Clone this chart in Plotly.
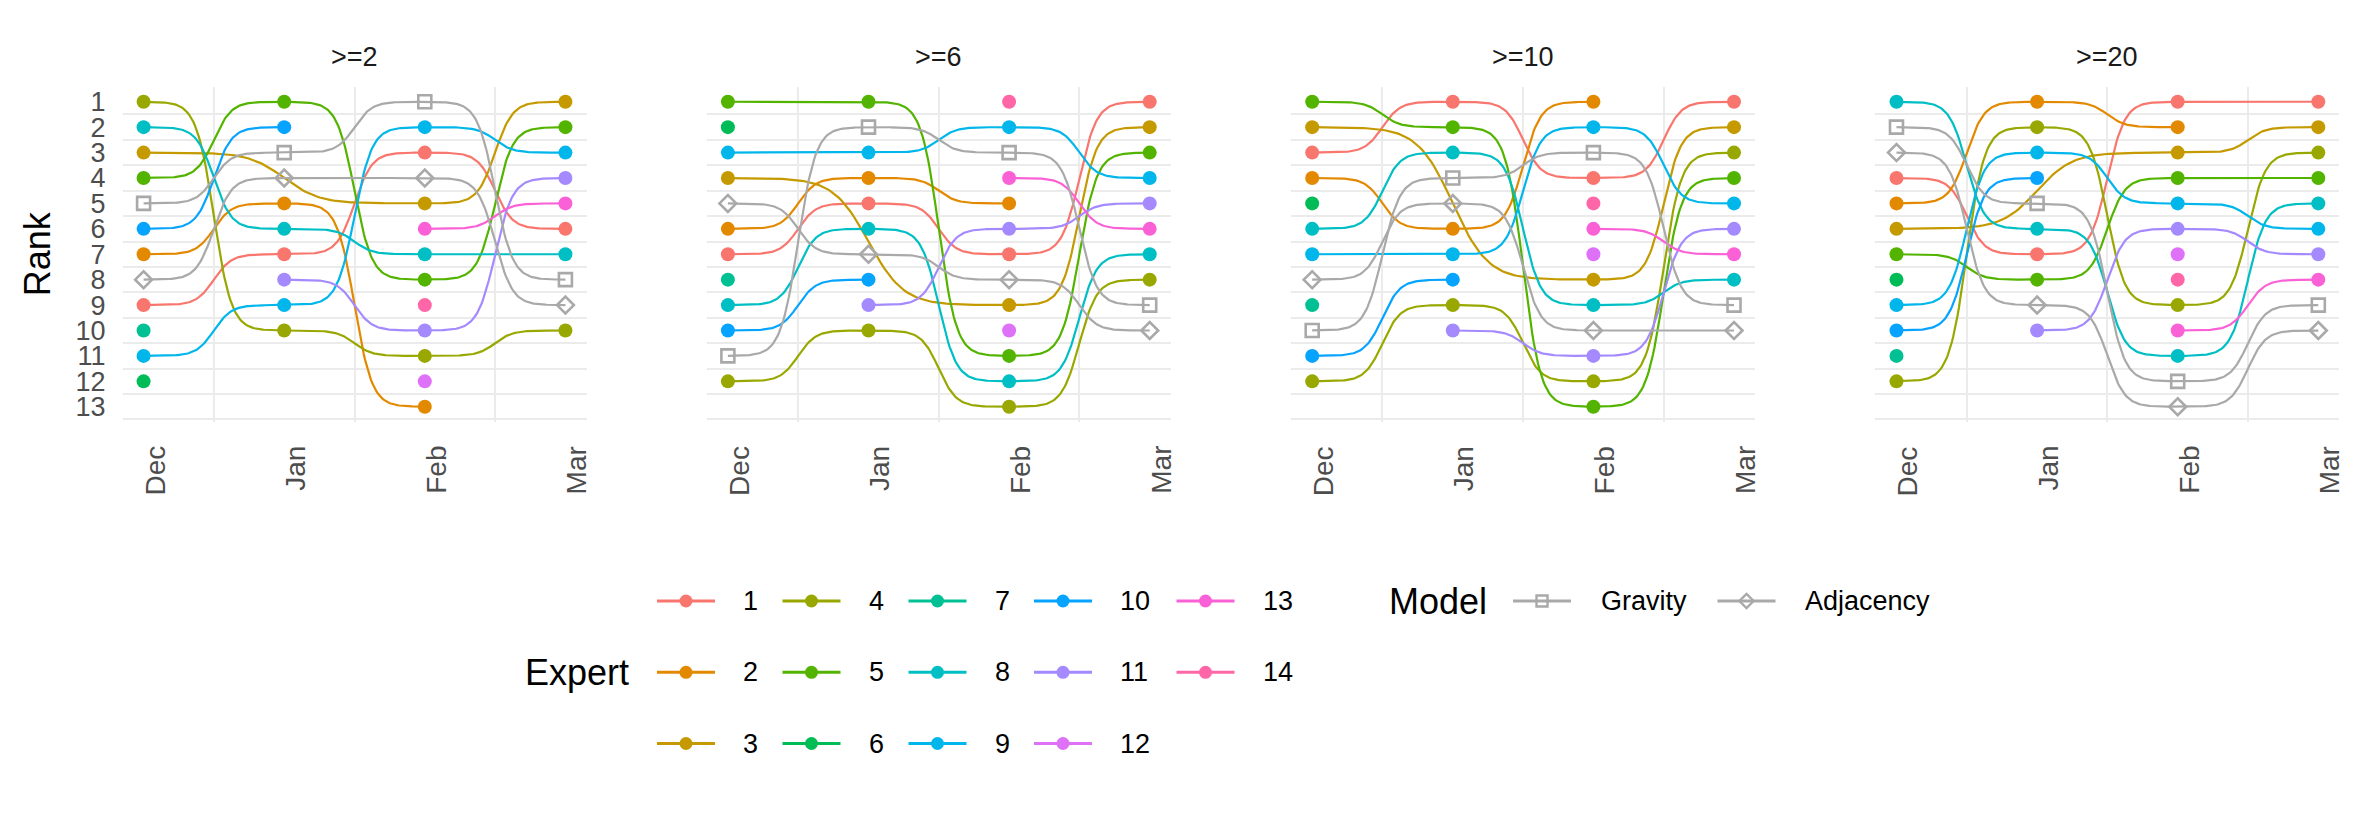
import numpy as np
import plotly.graph_objects as go

# ---------------- data ----------------
months = ["Dec", "Jan", "Feb", "Mar"]
panels = [">=2", ">=6", ">=10", ">=20"]
experts = [str(i) for i in range(1, 15)]
models = ["Gravity", "Adjacency"]
series = experts + models

expert_colors = ["#F8766D", "#E38900", "#C49A00", "#99A800", "#53B400", "#00BC56",
                 "#00C094", "#00BFC4", "#00B6EB", "#06A4FF", "#A58AFF", "#DF70F8",
                 "#FB61D7", "#FF66A8"]
model_color = "#A9A9A9"
model_symbols = ["square-open", "diamond-open"]

N = None
# rows follow `series` order: experts 1..14, Gravity, Adjacency ; columns Dec, Jan, Feb, Mar
rank_ge2 = [
    [9, 7, 3, 6], [7, 5, 13, N], [3, N, 5, 1], [1, 10, 11, 10], [4, 1, 8, 2],
    [12, N, N, N], [10, N, N, N], [2, 6, 7, 7], [11, 9, 2, 3], [6, 2, N, N],
    [N, 8, 10, 4], [N, N, 12, N], [N, N, 6, 5], [N, N, 9, N],
    [5, 3, 1, 8], [8, 4, 4, 9],
]
rank_ge6 = [
    [7, 5, 7, 1], [6, 4, 5, N], [4, N, 9, 2], [12, 10, 13, 8], [1, 1, 11, 3],
    [2, N, N, N], [8, N, N, N], [9, 6, 12, 7], [3, 3, 2, 4], [10, 8, N, N],
    [N, 9, 6, 5], [N, N, 10, N], [N, N, 4, 6], [N, N, 1, N],
    [11, 2, 3, 9], [5, 7, 8, 10],
]
rank_ge10 = [
    [3, 1, 4, 1], [4, 6, 1, N], [2, N, 8, 2], [12, 9, 12, 3], [1, 2, 13, 4],
    [5, N, N, N], [9, N, N, N], [6, 3, 9, 8], [7, 7, 2, 5], [11, 8, N, N],
    [N, 10, 11, 6], [N, N, 7, N], [N, N, 6, 7], [N, N, 5, N],
    [10, 4, 3, 9], [8, 5, 10, 10],
]
rank_ge20 = [
    [4, 7, 1, 1], [5, 1, 2, N], [6, N, 3, 2], [12, 2, 9, 3], [7, 8, 4, 4],
    [8, N, N, N], [11, N, N, N], [1, 6, 11, 5], [9, 3, 5, 6], [10, 4, N, N],
    [N, 10, 6, 7], [N, N, 7, N], [N, N, 10, 8], [N, N, 8, N],
    [2, 5, 12, 9], [3, 9, 13, 10],
]
panel_ranks = [rank_ge2, rank_ge6, rank_ge10, rank_ge20]
rank_ticks = list(range(1, 14))

# ---------------- layout constants ----------------
W, H = 2362, 826
FONT = "Liberation Sans, Arial, Helvetica, sans-serif"
GRID = "#EBEBEB"
panel_left = [122.5, 706.8, 1291.1, 1875.4]
panel_w = 464.0
plot_top, plot_bot = 86.5, 422.0
X_RANGE = [0.85, 4.15]
SMOOTH = 8
NPTS = 100


def sigmoid_path(x0, x1, y0, y1):
    t = np.linspace(-SMOOTH, SMOOTH, NPTS)
    s = np.exp(t) / (np.exp(t) + 1)
    xs = (t + SMOOTH) / (2 * SMOOTH) * (x1 - x0) + x0
    ys = s * (y1 - y0) + y0
    return xs.tolist(), ys.tolist()


def color_of(k):
    return expert_colors[k] if k < len(experts) else model_color


fig = go.Figure()

# lines first (all panels), then points
for p, ranks in enumerate(panel_ranks):
    xa, ya = f"x{p + 1 if p else ''}", f"y{p + 1 if p else ''}"
    for k, name in enumerate(series):
        row = ranks[k]
        pts = [(i + 1, r) for i, r in enumerate(row) if r is not None]
        if len(pts) < 2:
            continue
        xs, ys = [], []
        for (xa0, ya0), (xa1, ya1) in zip(pts[:-1], pts[1:]):
            sx, sy = sigmoid_path(xa0, xa1, ya0, ya1)
            xs += sx
            ys += sy
        fig.add_trace(go.Scatter(x=xs, y=ys, mode="lines", xaxis=xa, yaxis=ya,
                                 line=dict(color=color_of(k), width=2.2),
                                 hoverinfo="skip", showlegend=False))

for p, ranks in enumerate(panel_ranks):
    xa, ya = f"x{p + 1 if p else ''}", f"y{p + 1 if p else ''}"
    for k, name in enumerate(series):
        row = ranks[k]
        px = [i + 1 for i, r in enumerate(row) if r is not None]
        py = [r for r in row if r is not None]
        if not px:
            continue
        if k < len(experts):
            mk = dict(symbol="circle", size=14, color=color_of(k), line=dict(width=0))
        else:
            m = k - len(experts)
            mk = dict(symbol=model_symbols[m], size=13,
                      color=model_color, line=dict(width=2.6, color=model_color))
        fig.add_trace(go.Scatter(x=px, y=py, mode="markers", xaxis=xa, yaxis=ya,
                                 marker=mk, name=name, showlegend=False,
                                 hovertemplate=f"{name}: %{{y}}<extra></extra>"))

# ---------------- axes ----------------
layout_axes = {}
ydom = [1 - plot_bot / H, 1 - plot_top / H]
for p in range(4):
    sfx = str(p + 1) if p else ""
    l = panel_left[p]
    layout_axes[f"xaxis{sfx}"] = dict(
        domain=[l / W, (l + panel_w) / W], range=X_RANGE,
        tickmode="array", tickvals=[1, 2, 3, 4], showticklabels=False,
        showgrid=False, zeroline=False, showline=False, ticks="",
        minor=dict(tickmode="array", tickvals=[1.5, 2.5, 3.5], showgrid=True,
                   gridcolor=GRID, gridwidth=2, ticks=""),
        anchor=f"y{sfx}", fixedrange=True)
    layout_axes[f"yaxis{sfx}"] = dict(
        domain=ydom, range=[13.6, 0.4],
        tickmode="array", tickvals=rank_ticks, ticktext=[str(v) for v in rank_ticks],
        showticklabels=(p == 0),
        showgrid=False, zeroline=False, showline=False, ticks="",
        tickfont=dict(family=FONT, size=27, color="#4D4D4D"), ticklabelstandoff=16,
        minor=dict(tickmode="array", tickvals=[v + 0.5 for v in rank_ticks], showgrid=True,
                   gridcolor=GRID, gridwidth=2, ticks=""),
        anchor=f"x{sfx}", fixedrange=True)

# overlay pixel axis for titles, month labels and legend
layout_axes["xaxis5"] = dict(domain=[0, 1], range=[0, W], visible=False, fixedrange=True, anchor="y5")
layout_axes["yaxis5"] = dict(domain=[0, 1], range=[H, 0], visible=False, fixedrange=True, anchor="x5")

annotations = []
for p in range(4):
    annotations.append(dict(x=panel_left[p] + panel_w / 2, y=57, xref="x5", yref="y5",
                            text=panels[p], showarrow=False,
                            font=dict(family=FONT, size=27, color="#1A1A1A"),
                            xanchor="center", yanchor="middle"))
    # month labels (rotated), placed at each month's position on the panel scale
    for i, mname in enumerate(months):
        frac = (i + 1 - X_RANGE[0]) / (X_RANGE[1] - X_RANGE[0])
        xpix = panel_left[p] + frac * panel_w
        annotations.append(dict(x=xpix + 11, y=plot_bot + 22, xref="x5", yref="y5",
                                text=mname, textangle=-90, showarrow=False,
                                font=dict(family=FONT, size=28, color="#4D4D4D"),
                                xanchor="center", yanchor="top"))
annotations.append(dict(x=37, y=(plot_top + plot_bot) / 2, xref="x5", yref="y5", text="Rank",
                        textangle=-90, showarrow=False,
                        font=dict(family=FONT, size=36, color="#000000"),
                        xanchor="center", yanchor="middle"))

# ---------------- legend (drawn manually) ----------------
row_y = [601.0, 672.3, 743.5]
col_x = [686.0, 811.5, 937.5, 1063.0, 1205.5]
key_half = 29
label_off = 55
annotations.append(dict(x=523, y=row_y[1], xref="x5", yref="y5", text="Expert", showarrow=False,
                        font=dict(family=FONT, size=36, color="#000000"),
                        xanchor="left", yanchor="middle"))
for k, name in enumerate(experts):
    c, r = divmod(k, 3)
    cx, cy = col_x[c], row_y[r]
    fig.add_trace(go.Scatter(x=[cx - key_half, cx + key_half], y=[cy, cy], mode="lines",
                             xaxis="x5", yaxis="y5", line=dict(color=expert_colors[k], width=3),
                             hoverinfo="skip", showlegend=False))
    fig.add_trace(go.Scatter(x=[cx], y=[cy], mode="markers", xaxis="x5", yaxis="y5",
                             marker=dict(symbol="circle", size=13, color=expert_colors[k]),
                             hoverinfo="skip", showlegend=False))
    annotations.append(dict(x=cx + label_off, y=cy, xref="x5", yref="y5", text=name,
                            showarrow=False, font=dict(family=FONT, size=27, color="#000000"),
                            xanchor="left", yanchor="middle"))

annotations.append(dict(x=1387, y=row_y[0], xref="x5", yref="y5", text="Model", showarrow=False,
                        font=dict(family=FONT, size=36, color="#000000"),
                        xanchor="left", yanchor="middle"))
model_key_x = [1542.0, 1746.5]
for m, name in enumerate(models):
    cx, cy = model_key_x[m], row_y[0]
    fig.add_trace(go.Scatter(x=[cx - key_half, cx + key_half], y=[cy, cy], mode="lines",
                             xaxis="x5", yaxis="y5", line=dict(color=model_color, width=3),
                             hoverinfo="skip", showlegend=False))
    fig.add_trace(go.Scatter(x=[cx], y=[cy], mode="markers", xaxis="x5", yaxis="y5",
                             marker=dict(symbol=model_symbols[m], size=11,
                                         color=model_color, line=dict(width=2.4, color=model_color)),
                             hoverinfo="skip", showlegend=False))
    annotations.append(dict(x=cx + 56.5, y=cy, xref="x5", yref="y5", text=name,
                            showarrow=False, font=dict(family=FONT, size=27, color="#000000"),
                            xanchor="left", yanchor="middle"))

fig.update_layout(
    width=W, height=H, margin=dict(l=0, r=0, t=0, b=0),
    paper_bgcolor="white", plot_bgcolor="rgba(0,0,0,0)",
    showlegend=False, annotations=annotations,
    font=dict(family=FONT), **layout_axes,
)

fig.write_html("out.html")
